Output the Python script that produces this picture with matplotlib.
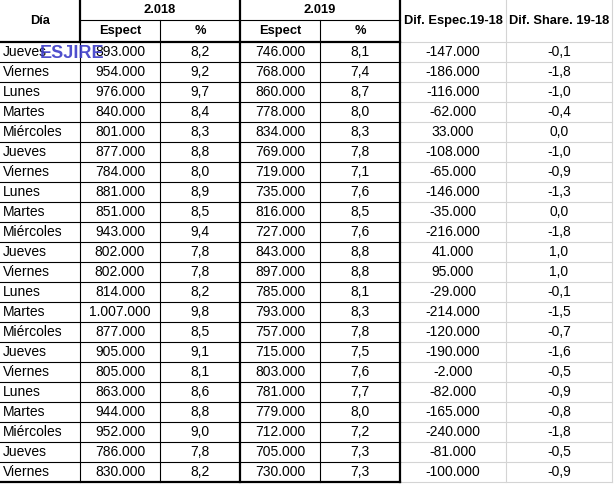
import matplotlib
matplotlib.use("Agg")
import matplotlib.pyplot as plt

dias = ["Jueves", "Viernes", "Lunes", "Martes", "Miércoles",
        "Jueves", "Viernes", "Lunes", "Martes", "Miércoles",
        "Jueves", "Viernes", "Lunes", "Martes", "Miércoles",
        "Jueves", "Viernes", "Lunes", "Martes", "Miércoles",
        "Jueves", "Viernes"]
espect_2018 = [893000, 954000, 976000, 840000, 801000, 877000, 784000, 881000,
               851000, 943000, 802000, 802000, 814000, 1007000, 877000, 905000,
               805000, 863000, 944000, 952000, 786000, 830000]
pct_2018 = [8.2, 9.2, 9.7, 8.4, 8.3, 8.8, 8.0, 8.9, 8.5, 9.4, 7.8,
            7.8, 8.2, 9.8, 8.5, 9.1, 8.1, 8.6, 8.8, 9.0, 7.8, 8.2]
espect_2019 = [746000, 768000, 860000, 778000, 834000, 769000, 719000, 735000,
               816000, 727000, 843000, 897000, 785000, 793000, 757000, 715000,
               803000, 781000, 779000, 712000, 705000, 730000]
pct_2019 = [8.1, 7.4, 8.7, 8.0, 8.3, 7.8, 7.1, 7.6, 8.5, 7.6, 8.8,
            8.8, 8.1, 8.3, 7.8, 7.5, 7.6, 7.7, 8.0, 7.2, 7.3, 7.3]
dif_espec = [-147000, -186000, -116000, -62000, 33000, -108000, -65000, -146000,
             -35000, -216000, 41000, 95000, -29000, -214000, -120000, -190000,
             -2000, -82000, -165000, -240000, -81000, -100000]
dif_share = [-0.1, -1.8, -1.0, -0.4, 0.0, -1.0, -0.9, -1.3, 0.0, -1.8, 1.0,
             1.0, -0.1, -1.5, -0.7, -1.6, -0.5, -0.9, -0.8, -1.8, -0.5, -0.9]


def miles(v):
    s = f"{abs(v):,}".replace(",", ".")
    return ("-" if v < 0 else "") + s


def coma(v):
    return f"{v:.1f}".replace(".", ",")


plt.rcParams["font.family"] = ["Liberation Sans", "DejaVu Sans"]

fig = plt.figure(figsize=(6.16, 4.84), dpi=100)
ax = fig.add_axes([0, 0, 1, 1])
ax.set_xlim(0, 616)
ax.set_ylim(484, 0)
ax.axis("off")

top_sub = 20
head_end = 42
row_h = 20
n = len(dias)
bottom = head_end + n * row_h

thick = 1.6
thin = 0.8
grid = "#d4d4d4"

# gray excel gridlines on the Dif columns
for i in range(n + 1):
    y = head_end + i * row_h
    ax.plot([400, 612], [y, y], color=grid, lw=0.8, zorder=1)
for x in [506, 612]:
    ax.plot([x, x], [0, bottom], color=grid, lw=0.8, zorder=1)

# black borders
ax.plot([80, 400], [top_sub, top_sub], color="black", lw=thin, zorder=2)
for i in range(1, n):
    y = head_end + i * row_h
    ax.plot([0, 400], [y, y], color="black", lw=thin, zorder=2)
ax.plot([0, 400], [head_end, head_end], color="black", lw=thick, zorder=3)
ax.plot([0, 400], [bottom, bottom], color="black", lw=thick, zorder=3)
ax.plot([80, 80], [0, head_end], color="black", lw=thick, zorder=3)
ax.plot([80, 80], [head_end, bottom], color="black", lw=thin, zorder=2)
for x in [160, 320]:
    ax.plot([x, x], [top_sub, bottom], color="black", lw=thin, zorder=2)
for x in [240, 400]:
    ax.plot([x, x], [0, bottom], color="black", lw=thick, zorder=3)

fs = 10
hdr = dict(fontsize=9.3, fontweight="bold", ha="center", va="center", zorder=4)
ax.text(40, 21, "Día", **hdr)
ax.text(160, 10, "2.018", **hdr)
ax.text(320, 10, "2.019", **hdr)
for x0, lab in zip([80, 160, 240, 320], ["Espect", "%", "Espect", "%"]):
    ax.text(x0 + 40, 31, lab, **hdr)
ax.text(453, 21, "Dif. Espec.19-18", **hdr)
ax.text(559, 21, "Dif. Share. 19-18", **hdr)

for i in range(n):
    y = head_end + i * row_h + row_h / 2 + 0.5
    kw = dict(fontsize=fs, va="center", zorder=4)
    ax.text(3, y, dias[i], ha="left", **kw)
    ax.text(120, y, miles(espect_2018[i]), ha="center", **kw)
    ax.text(200, y, coma(pct_2018[i]), ha="center", **kw)
    ax.text(280, y, miles(espect_2019[i]), ha="center", **kw)
    ax.text(360, y, coma(pct_2019[i]), ha="center", **kw)
    ax.text(453, y, miles(dif_espec[i]), ha="center", **kw)
    ax.text(559, y, coma(dif_share[i]), ha="center", **kw)

ax.text(72, 53, "ESJIRE", fontsize=13, fontweight="bold", color="#3c3cc8",
        alpha=0.9, ha="center", va="center", zorder=5)

fig.savefig("out.png", dpi=100)
